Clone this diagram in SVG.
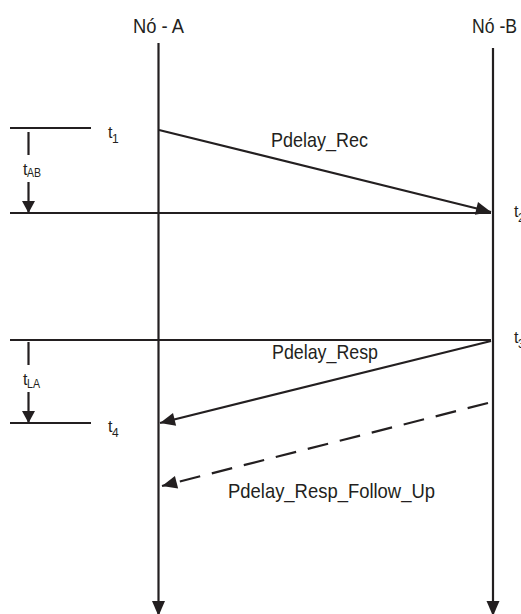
<svg xmlns="http://www.w3.org/2000/svg" width="521" height="614" viewBox="0 0 521 614">
<style>
.ln{stroke:#231f20;stroke-width:2.2;fill:none}
.lbl{font-family:"Liberation Sans",Arial,sans-serif;font-size:21px;fill:#231f20}
.tl{font-family:"Liberation Sans",Arial,sans-serif;font-size:16px;fill:#231f20}
.sub{font-size:12px}
.dash{stroke-dasharray:21 12}
</style>
<defs>
<marker id="ah" markerUnits="userSpaceOnUse" markerWidth="16" markerHeight="14" refX="15" refY="6.5" orient="auto" overflow="visible">
<path d="M0,0 L15,6.5 L0,13 z" fill="#231f20"/>
</marker>
<marker id="ahs" markerUnits="userSpaceOnUse" markerWidth="13" markerHeight="14" refX="12" refY="6.5" orient="auto" overflow="visible">
<path d="M0,0 L12,6.5 L0,13 z" fill="#231f20"/>
</marker>
</defs>
<rect width="521" height="614" fill="#fff"/>
<g id="nodeA">
<text class="lbl" x="133" y="33" textLength="51" lengthAdjust="spacingAndGlyphs">Nó - A</text>
<line class="ln" x1="158.5" y1="43" x2="158.5" y2="616" marker-end="url(#ah)"/>
</g>
<g id="nodeB">
<text class="lbl" x="472" y="33" textLength="45" lengthAdjust="spacingAndGlyphs">Nó -B</text>
<line class="ln" x1="493" y1="48" x2="493" y2="616" marker-end="url(#ah)"/>
</g>
<g id="timing">
<line class="ln" x1="10" y1="128" x2="91" y2="128"/>
<line class="ln" x1="10" y1="213" x2="491" y2="213"/>
<line class="ln" x1="10" y1="340" x2="491" y2="340"/>
<line class="ln" x1="10" y1="423" x2="91" y2="423"/>
<line class="ln" x1="28.5" y1="132" x2="28.5" y2="155"/>
<line class="ln" x1="28.5" y1="182" x2="28.5" y2="213" marker-end="url(#ahs)"/>
<line class="ln" x1="28.5" y1="342" x2="28.5" y2="365"/>
<line class="ln" x1="28.5" y1="392" x2="28.5" y2="423" marker-end="url(#ahs)"/>
<text class="tl" x="108" y="138">t<tspan class="sub" x="112" y="143">1</tspan></text>
<text class="tl" x="23" y="175">t<tspan class="sub" x="27" y="177" textLength="14" lengthAdjust="spacingAndGlyphs">AB</tspan></text>
<text class="tl" x="514" y="217">t<tspan class="sub" x="518" y="222">2</tspan></text>
<text class="tl" x="514" y="343">t<tspan class="sub" x="518" y="348">3</tspan></text>
<text class="tl" x="23" y="385">t<tspan class="sub" x="27" y="388" textLength="13" lengthAdjust="spacingAndGlyphs">LA</tspan></text>
<text class="tl" x="108" y="432">t<tspan class="sub" x="112" y="437">4</tspan></text>
</g>
<g id="connectors">
<line class="ln" x1="159" y1="130" x2="491" y2="212" marker-end="url(#ah)"/>
<text class="lbl" x="271" y="147" textLength="97" lengthAdjust="spacingAndGlyphs">Pdelay_Rec</text>
<line class="ln" x1="491" y1="341" x2="160" y2="423" marker-end="url(#ah)"/>
<text class="lbl" x="272" y="359" textLength="106" lengthAdjust="spacingAndGlyphs">Pdelay_Resp</text>
<line class="ln dash" x1="488" y1="403" x2="162" y2="486" marker-end="url(#ah)"/>
<text class="lbl" x="228" y="498" textLength="207" lengthAdjust="spacingAndGlyphs">Pdelay_Resp_Follow_Up</text>
</g>
</svg>
